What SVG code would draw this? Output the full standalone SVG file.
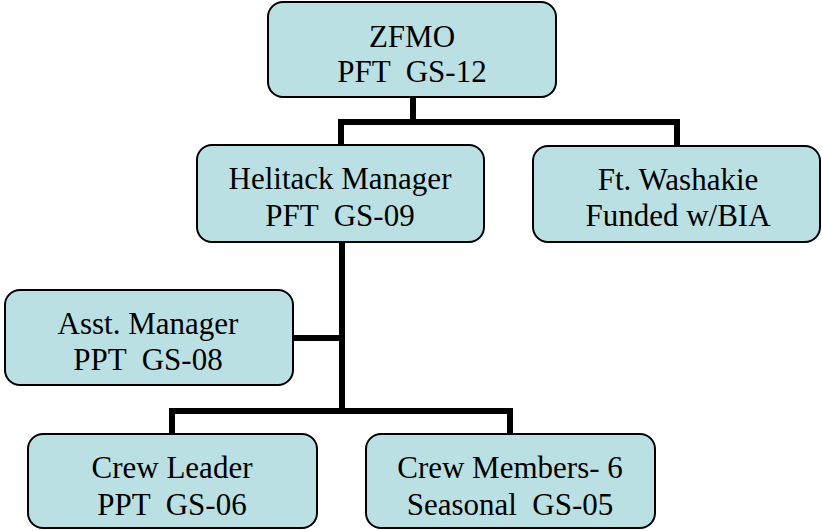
<svg xmlns="http://www.w3.org/2000/svg" width="822" height="531" viewBox="0 0 822 531">
<style>
.box{fill:#bbe0e3;stroke:#000;stroke-width:2}
.t{font-family:"Liberation Serif","Times New Roman",serif;font-size:31px;fill:#000;text-anchor:middle;white-space:pre}
.c{fill:none;stroke:#000;stroke-width:6}
</style>
<rect width="822" height="531" fill="#fff"/>
<g id="connectors">
<path class="c" d="M413 97V122M338 122H680M341 119V146M677 119V147"/>
<path class="c" d="M342 242V411M292 338H345M169 411H513M172 408V434M510 408V434"/>
</g>
<g id="zfmo"><rect class="box" x="268" y="2" width="288" height="95" rx="15"/>
<text class="t" x="412" y="47" xml:space="preserve">ZFMO</text><text class="t" x="412" y="82" xml:space="preserve">PFT  GS-12</text></g>
<g id="helitack"><rect class="box" x="197" y="145" width="287" height="97" rx="15"/>
<text class="t" x="340" y="189" xml:space="preserve">Helitack Manager</text><text class="t" x="340" y="226" xml:space="preserve">PFT  GS-09</text></g>
<g id="washakie"><rect class="box" x="533" y="146" width="287" height="96" rx="15"/>
<text class="t" x="678" y="190" xml:space="preserve">Ft. Washakie</text><text class="t" x="678" y="226" xml:space="preserve">Funded w/BIA</text></g>
<g id="asst"><rect class="box" x="5" y="290" width="288" height="95" rx="15"/>
<text class="t" x="148" y="334" xml:space="preserve">Asst. Manager</text><text class="t" x="148" y="370" xml:space="preserve">PPT  GS-08</text></g>
<g id="crewleader"><rect class="box" x="28" y="434" width="289" height="94" rx="15"/>
<text class="t" x="172" y="478" xml:space="preserve">Crew Leader</text><text class="t" x="172" y="515" xml:space="preserve">PPT  GS-06</text></g>
<g id="crewmembers"><rect class="box" x="366" y="434" width="289" height="94" rx="15"/>
<text class="t" x="510" y="478" xml:space="preserve">Crew Members- 6</text><text class="t" x="510" y="515" xml:space="preserve">Seasonal  GS-05</text></g>
</svg>
